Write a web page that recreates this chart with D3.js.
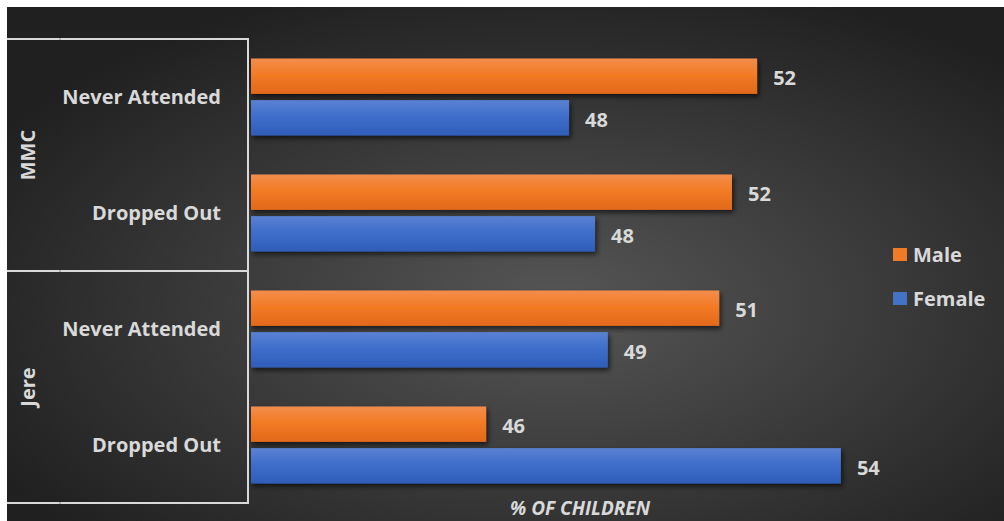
<!DOCTYPE html>
<html>
<head>
<meta charset="utf-8">
<script src="https://cdn.jsdelivr.net/npm/d3@7"></script>
<style>
  html, body { margin: 0; padding: 0; background: #fff; }
  svg { display: block; }
  text { font-family: "Open Sans", Lato, sans-serif; fill: #d9d9d9; font-weight: bold; }
</style>
</head>
<body>
<div id="chart"></div>
<script>
// data (axis starts at 40, labels are rounded)
const groups = ["MMC", "Jere"];
const categories = ["Never Attended", "Dropped Out"];
const seriesNames = ["Male", "Female"];
const maleValues = [52.27, 51.66, 51.35, 45.70];
const femaleValues = [47.71, 48.34, 48.65, 54.30];
const xDomain = [40, 58];

const width = 1004, height = 521;
const svg = d3.select("#chart").append("svg")
    .attr("width", width)
    .attr("height", height);

const defs = svg.append("defs");
const bg = defs.append("radialGradient")
    .attr("id", "bg").attr("cx", "55%").attr("cy", "58%").attr("r", "65%");
bg.append("stop").attr("offset", "0%").attr("stop-color", "#565656");
bg.append("stop").attr("offset", "100%").attr("stop-color", "#202020");

function barGrad(id, top, mid, bottom) {
    let g = defs.append("linearGradient").attr("id", id)
        .attr("x1", 0).attr("y1", 0).attr("x2", 0).attr("y2", 1);
    g.append("stop").attr("offset", "0%").attr("stop-color", top);
    g.append("stop").attr("offset", "45%").attr("stop-color", mid);
    g.append("stop").attr("offset", "100%").attr("stop-color", bottom);
}
barGrad("gMale", "#f38d4d", "#f27b25", "#e2691a");
barGrad("gFemale", "#5a82d3", "#3f6ecb", "#2e5db8");

const shadow = defs.append("filter").attr("id", "shadow")
    .attr("x", "-5%").attr("y", "-20%").attr("width", "115%").attr("height", "160%");
shadow.append("feDropShadow")
    .attr("dx", 2).attr("dy", 3).attr("stdDeviation", 2.5)
    .attr("flood-color", "#000").attr("flood-opacity", 0.6);

svg.append("rect")
    .attr("x", 7).attr("y", 7)
    .attr("width", width - 7).attr("height", height - 7)
    .attr("fill", "url(#bg)");

const plotTop = 39, plotBottom = 503;
const rows = [];
groups.forEach((g, gi) => categories.forEach((c, ci) => rows.push({ group: g, cat: c, i: gi * categories.length + ci })));

const x = d3.scaleLinear().domain(xDomain).range([251, 993.5]);
const y = d3.scaleBand().domain(rows.map(r => r.i)).range([plotTop, plotBottom])
    .paddingInner(0.336).paddingOuter(0.168);
const ySub = d3.scaleBand().domain(seriesNames).range([0, y.bandwidth()]).paddingInner(0.15);

const bars = [];
rows.forEach(r => {
    bars.push({ row: r, s: "Male", v: maleValues[r.i] });
    bars.push({ row: r, s: "Female", v: femaleValues[r.i] });
});

const barG = svg.append("g");
barG.selectAll("rect")
    .data(bars)
    .enter().append("rect")
    .attr("x", x(xDomain[0]))
    .attr("y", d => y(d.row.i) + ySub(d.s))
    .attr("width", d => x(d.v) - x(xDomain[0]))
    .attr("height", ySub.bandwidth())
    .attr("fill", d => d.s === "Male" ? "url(#gMale)" : "url(#gFemale)")
    .attr("filter", "url(#shadow)");

barG.selectAll("text")
    .data(bars)
    .enter().append("text")
    .attr("x", d => x(d.v) + 16)
    .attr("y", d => y(d.row.i) + ySub(d.s) + ySub.bandwidth() / 2 + 2)
    .attr("dy", "0.36em")
    .style("font-size", "20px")
    .text(d => d3.format(".0f")(d.v));

// category labels
svg.append("g").selectAll("text")
    .data(rows)
    .enter().append("text")
    .attr("x", 221)
    .attr("y", d => y(d.i) + y.bandwidth() / 2)
    .attr("dy", "0.36em")
    .attr("text-anchor", "end")
    .style("font-size", "20px")
    .text(d => d.cat);

// group frame
const groupH = (plotBottom - plotTop) / groups.length;
const frame = svg.append("g").attr("fill", "none").attr("stroke", "#d9d9d9").attr("stroke-width", 2);
frame.append("path")
    .attr("d", `M7,${plotTop}H248V${plotBottom}H7`);
groups.slice(1).forEach((g, i) => {
    frame.append("line")
        .attr("x1", 7).attr("x2", 248)
        .attr("y1", plotTop + groupH * (i + 1)).attr("y2", plotTop + groupH * (i + 1));
});
d3.range(groups.length + 1).forEach(i => {
    svg.append("line")
        .attr("x1", 60).attr("x2", 60)
        .attr("y1", plotTop + groupH * i - 1).attr("y2", plotTop + groupH * i + 1)
        .attr("stroke", "#888").attr("stroke-width", 1);
});

svg.append("g").selectAll("text")
    .data(groups)
    .enter().append("text")
    .attr("transform", (d, i) => `translate(28,${plotTop + groupH * (i + 0.5)}) rotate(-90)`)
    .attr("dy", "0.36em")
    .attr("text-anchor", "middle")
    .style("font-size", "20px")
    .text(d => d);

// axis title
svg.append("text")
    .attr("x", 580).attr("y", 515)
    .attr("text-anchor", "middle")
    .style("font-size", "19px")
    .style("font-style", "italic")
    .text("% OF CHILDREN");

// legend
const legend = svg.append("g").selectAll("g")
    .data(seriesNames)
    .enter().append("g")
    .attr("transform", (d, i) => `translate(893,${248 + i * 44})`);
legend.append("rect")
    .attr("width", 14).attr("height", 13)
    .attr("fill", d => d === "Male" ? "#f07b26" : "#4472c4");
legend.append("text")
    .attr("x", 20).attr("y", 7)
    .attr("dy", "0.36em")
    .style("font-size", "20px")
    .text(d => d);
</script>
</body>
</html>
